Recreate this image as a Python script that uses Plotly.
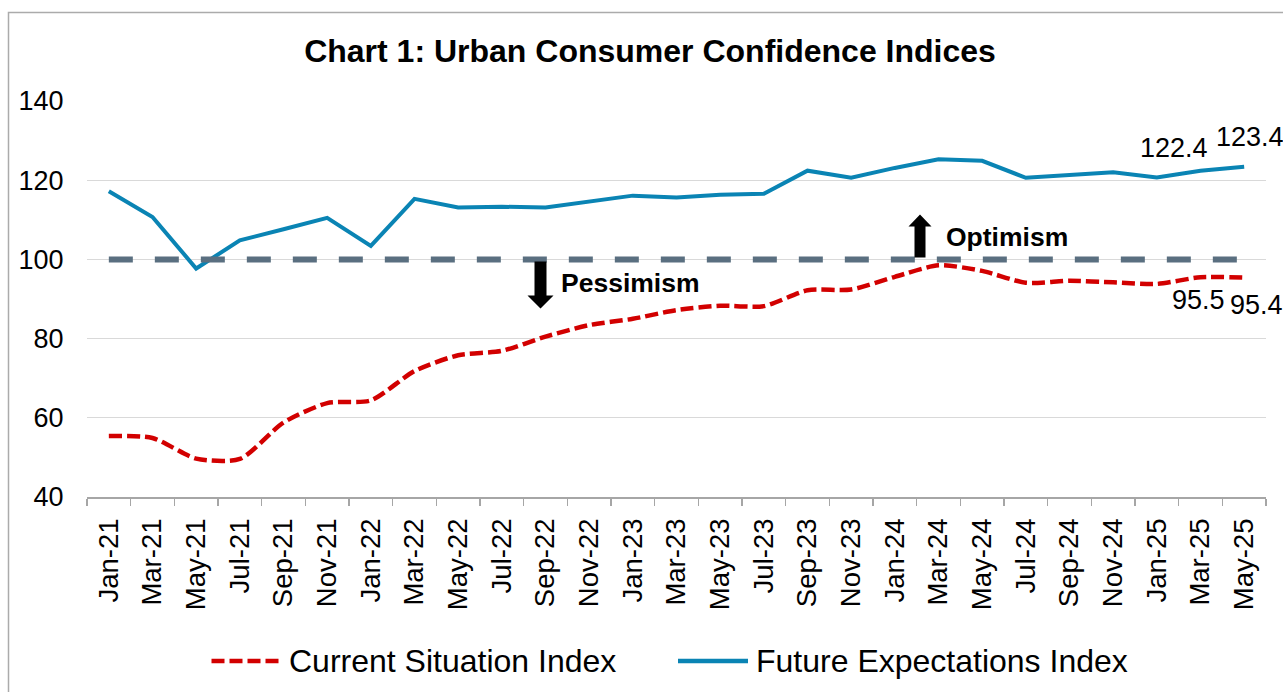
import plotly.graph_objects as go

# ---------------- data ----------------
categories = ["Jan-21", "Mar-21", "May-21", "Jul-21", "Sep-21", "Nov-21",
              "Jan-22", "Mar-22", "May-22", "Jul-22", "Sep-22", "Nov-22",
              "Jan-23", "Mar-23", "May-23", "Jul-23", "Sep-23", "Nov-23",
              "Jan-24", "Mar-24", "May-24", "Jul-24", "Sep-24", "Nov-24",
              "Jan-25", "Mar-25", "May-25"]

current_situation = [55.4, 54.9, 49.7, 49.6, 58.8, 63.7, 64.4, 71.8, 75.8,
                     76.9, 80.5, 83.4, 85.0, 87.2, 88.3, 88.2, 92.2, 92.4,
                     95.6, 98.5, 97.1, 94.1, 94.6, 94.2, 93.8, 95.5, 95.4]

future_expectations = [117.2, 110.7, 97.7, 104.8, 107.6, 110.5, 103.4, 115.3,
                       113.1, 113.3, 113.1, 114.7, 116.1, 115.6, 116.3, 116.6,
                       122.4, 120.6, 123.1, 125.3, 124.9, 120.6, 121.4, 122.0,
                       120.7, 122.4, 123.4]

neutral_level = 100
y_ticks = [40, 60, 80, 100, 120, 140]

series_names = ["Current Situation Index", "Future Expectations Index"]
title_text = "Chart 1: Urban Consumer Confidence Indices"

# ---------------- styling ----------------
FONT = "Liberation Sans, Arial, sans-serif"
RED = "#D20000"
BLUE = "#0A84B4"
GREY_LINE = "#5A6F80"

W, H = 1283, 692
ML, MT = 87, 101
PW, PH = 1179, 396
MR = W - ML - PW
MB = H - MT - PH


def px_x(px):
    """screen x (pixels) -> paper x"""
    return (px - ML) / PW


def px_y(py):
    """screen y (pixels) -> paper y"""
    return (MT + PH - py) / PH


fig = go.Figure()

fig.add_trace(go.Scatter(
    x=categories, y=current_situation, name=series_names[0], mode="lines",
    line=dict(color=RED, width=4.5, dash="13px,5px", shape="spline", smoothing=0.7),
    showlegend=False, hoverinfo="skip"))

fig.add_trace(go.Scatter(
    x=categories, y=future_expectations, name=series_names[1], mode="lines",
    line=dict(color=BLUE, width=4),
    showlegend=False, hoverinfo="skip"))

fig.add_trace(go.Scatter(
    x=categories, y=[neutral_level] * len(categories), mode="lines",
    line=dict(color=GREY_LINE, width=6, dash="24px,22px"),
    showlegend=False, hoverinfo="skip"))

annotations = []
# data labels for the last two points
last2 = categories[-2:]
for cat, val, xs, ys in [(last2[0], future_expectations[-2], -27, 23),
                         (last2[1], future_expectations[-1], 6, 30),
                         (last2[0], current_situation[-2], -2, -23),
                         (last2[1], current_situation[-1], 12, -27)]:
    annotations.append(dict(x=cat, y=val, xref="x", yref="y", text=f"{val:.1f}",
                            showarrow=False, xshift=xs, yshift=ys,
                            font=dict(family=FONT, size=27, color="black")))

# Pessimism / Optimism labels
pess_idx = categories.index("Sep-22")
opt_idx = categories.index("Mar-24")
annotations.append(dict(x=pess_idx, y=neutral_level, xref="x", yref="y",
                        text="Pessimism", showarrow=False, xanchor="left",
                        xshift=13, yshift=-24,
                        font=dict(family=FONT, size=26.5, color="black", weight="bold")))
annotations.append(dict(x=opt_idx, y=neutral_level, xref="x", yref="y",
                        text="Optimism", showarrow=False, xanchor="left",
                        xshift=5, yshift=22,
                        font=dict(family=FONT, size=26.5, color="black", weight="bold")))

# custom legend texts
annotations.append(dict(x=px_x(287), y=px_y(661), xref="paper", yref="paper",
                        text=series_names[0], showarrow=False, xanchor="left",
                        yanchor="middle",
                        font=dict(family=FONT, size=32, color="black")))
annotations.append(dict(x=px_x(754), y=px_y(661), xref="paper", yref="paper",
                        text=series_names[1], showarrow=False, xanchor="left",
                        yanchor="middle",
                        font=dict(family=FONT, size=32, color="black")))

shapes = []
# outer chart border
shapes.append(dict(type="rect", xref="paper", yref="paper",
                   x0=px_x(8.5), x1=px_x(1300), y0=px_y(720), y1=px_y(12.5),
                   line=dict(color="#ABABAB", width=1.5), fillcolor="rgba(0,0,0,0)",
                   layer="below"))
# legend samples
shapes.append(dict(type="line", xref="paper", yref="paper",
                   x0=px_x(211.5), x1=px_x(280), y0=px_y(661), y1=px_y(661),
                   line=dict(color=RED, width=4.5, dash="13px,5px")))
shapes.append(dict(type="line", xref="paper", yref="paper",
                   x0=px_x(678), x1=px_x(748), y0=px_y(661), y1=px_y(661),
                   line=dict(color=BLUE, width=4.5)))
# arrows (pixel-sized, anchored to the neutral line)
shapes.append(dict(type="path", xref="x", yref="y", xsizemode="pixel", ysizemode="pixel",
                   xanchor=pess_idx, yanchor=neutral_level,
                   path="M-11,-2 L1,-2 L1,-36 L8,-36 L-5,-49 L-18,-36 L-11,-36 Z",
                   fillcolor="black", line=dict(color="black", width=0), layer="above"))
shapes.append(dict(type="path", xref="x", yref="y", xsizemode="pixel", ysizemode="pixel",
                   xanchor=opt_idx, yanchor=neutral_level,
                   path="M-24,2 L-13,2 L-13,33 L-7,33 L-18.5,45 L-30,33 L-24,33 Z",
                   fillcolor="black", line=dict(color="black", width=0), layer="above"))

fig.update_layout(
    width=W, height=H,
    margin=dict(l=ML, r=MR, t=MT, b=MB, pad=0, autoexpand=False),
    paper_bgcolor="white", plot_bgcolor="white",
    font=dict(family=FONT, color="black"),
    title=dict(text=title_text, x=650 / W, xref="container", xanchor="center",
               y=1 - 51 / H, yref="container", yanchor="middle",
               font=dict(family=FONT, size=32, color="black", weight="bold")),
    showlegend=False,
    hovermode=False,
    annotations=annotations,
    shapes=shapes,
)

fig.update_xaxes(
    type="category", categoryorder="array", categoryarray=categories,
    range=[-0.5, len(categories) - 0.5], automargin=False,
    showgrid=False, showline=True, linecolor="#A6A6A6", linewidth=1.5,
    ticks="outside", tickson="boundaries", ticklen=7, tickcolor="#A6A6A6", tickwidth=1.5,
    tickangle=-90, tickfont=dict(family=FONT, size=27.5, color="black"),
    ticklabelstandoff=9, zeroline=False, fixedrange=True)

fig.update_yaxes(
    range=[40, 140], tickvals=y_ticks, automargin=False,
    showgrid=True, gridcolor="#D9D9D9", gridwidth=1.3,
    showline=False, ticks="outside", ticklen=17, tickcolor="rgba(0,0,0,0)",
    zeroline=False,
    tickfont=dict(family=FONT, size=27, color="black"),
    fixedrange=True)

fig.write_html(
    "out.html",
    config=dict(displayModeBar=False, staticPlot=True),
    post_script="document.body.style.margin='0';document.body.style.overflow='hidden';",
)
